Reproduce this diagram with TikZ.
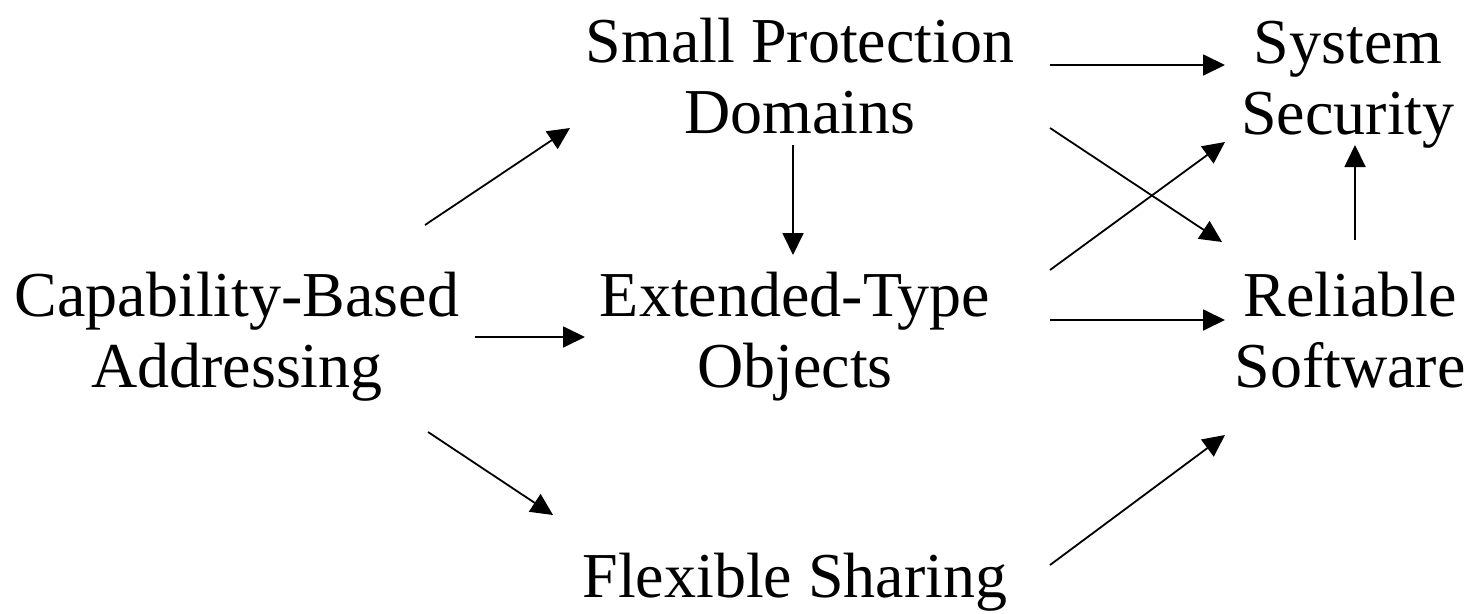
\documentclass[tikz,border=0pt]{standalone}
\usepackage{fontspec}
\setmainfont{Liberation Serif}
\usetikzlibrary{arrows.meta}
\begin{document}
\begin{tikzpicture}[x=1pt,y=-1pt,
  lbl/.style={align=center,inner sep=0pt,anchor=base,font=\fontsize{64}{71}\selectfont},
  arr/.style={line width=1.8pt,-{Triangle[length=22pt,width=21pt]}}]
\useasboundingbox (0,0) rectangle (1477,613);
\node[lbl] (cba) at (237,387) {Capability-Based\\Addressing};
\node[lbl] (spd) at (800,133) {Small Protection\\Domains};
\node[lbl] (eto) at (795,387) {Extended-Type\\Objects};
\node[lbl] (fs) at (795,597) {Flexible Sharing};
\node[lbl] (ss) at (1348,134) {System\\Security};
\node[lbl] (rs) at (1350,387) {Reliable\\Software};
\draw[arr] ([shift={(188,-162)}]cba.base) -- ([shift={(-230,-5)}]spd.base);
\draw[arr] ([shift={(238,-50)}]cba.base) -- ([shift={(-210,-50)}]eto.base);
\draw[arr] ([shift={(191,45)}]cba.base) -- ([shift={(-242,-82)}]fs.base);
\draw[arr] ([shift={(-7,12)}]spd.base) -- ([shift={(-2,-132)}]eto.base);
\draw[arr] ([shift={(250,-68)}]spd.base) -- ([shift={(-123,-69)}]ss.base);
\draw[arr] ([shift={(250,-5)}]spd.base) -- ([shift={(-128,-145)}]rs.base);
\draw[arr] ([shift={(255,-117)}]eto.base) -- ([shift={(-123,8)}]ss.base);
\draw[arr] ([shift={(255,-67)}]eto.base) -- ([shift={(-125,-67)}]rs.base);
\draw[arr] ([shift={(255,-32)}]fs.base) -- ([shift={(-125,48)}]rs.base);
\draw[arr] ([shift={(5,-147)}]rs.base) -- ([shift={(7,11)}]ss.base);
\end{tikzpicture}
\end{document}
